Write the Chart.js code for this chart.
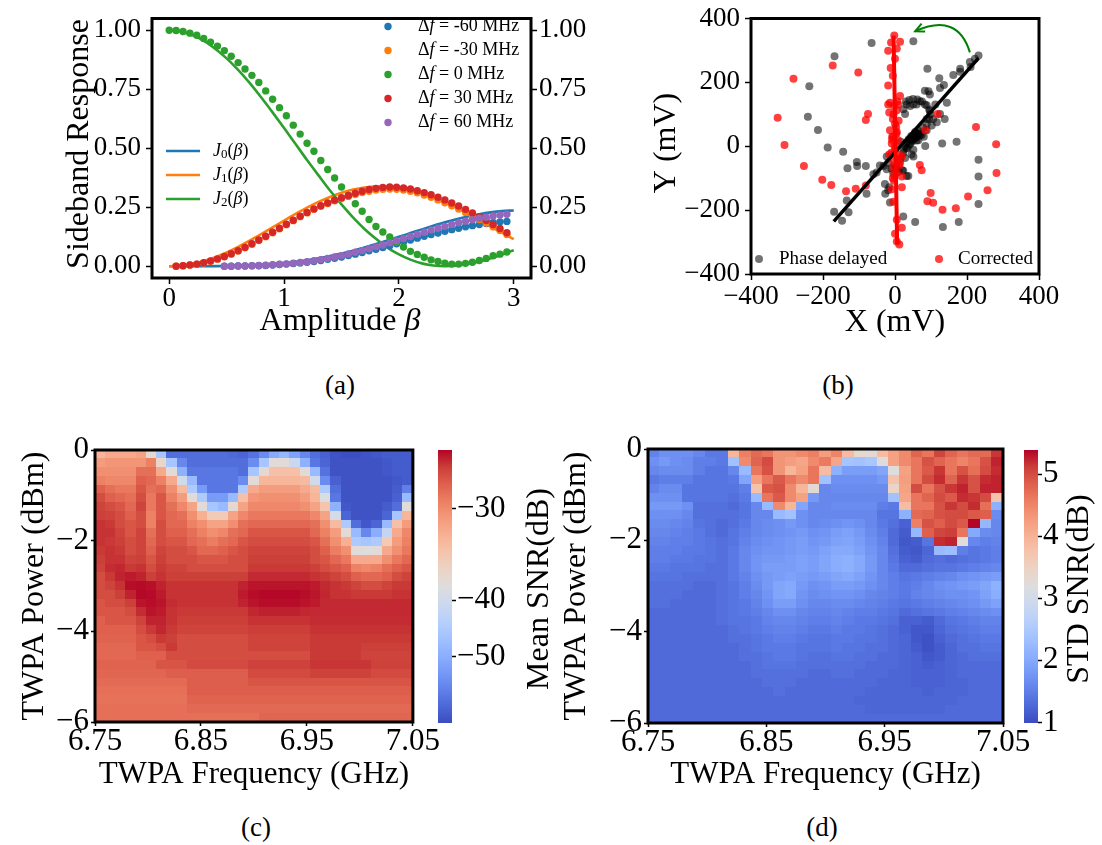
<!DOCTYPE html>
<html>
<head>
<meta charset="utf-8">
<script src="https://cdn.jsdelivr.net/npm/chart.js@4.4.1/dist/chart.umd.min.js"></script>
<style>
  body { margin: 0; background: #fff; width: 1102px; height: 845px; position: relative; overflow: hidden; font-family: "Liberation Serif", serif; }
  canvas { position: absolute; }
  .tag { position: absolute; font-size: 27px; transform: translate(-50%, -50%); color: #000; }
</style>
</head>
<body>
<canvas id="panelA" width="600" height="345" style="left:0;top:0"></canvas>
<canvas id="panelB" width="502" height="345" style="left:600px;top:0"></canvas>
<canvas id="panelC" width="440" height="370" style="left:0;top:430px"></canvas>
<canvas id="barC" width="130" height="370" style="left:430px;top:430px"></canvas>
<canvas id="panelD" width="500" height="370" style="left:540px;top:430px"></canvas>
<canvas id="barD" width="86" height="370" style="left:1016px;top:430px"></canvas>
<div class="tag" style="left:340px;top:385px">(a)</div>
<div class="tag" style="left:838px;top:385px">(b)</div>
<div class="tag" style="left:256px;top:827px">(c)</div>
<div class="tag" style="left:822px;top:827px">(d)</div>
<script>
// ---------- (a) sideband response ----------
const betaLine = [0.0, 0.1, 0.2, 0.3, 0.4, 0.5, 0.6, 0.7, 0.8, 0.9, 1.0, 1.1, 1.2, 1.3, 1.4, 1.5, 1.6, 1.7, 1.8, 1.9, 2.0, 2.1, 2.2, 2.3, 2.4, 2.5, 2.6, 2.7, 2.8, 2.9, 3.0];
const lineJ0 = [0, 0.0000, 0.0000, 0.0001, 0.0004, 0.0009, 0.0019, 0.0035, 0.0057, 0.0089, 0.0132, 0.0187, 0.0254, 0.0335, 0.0430, 0.0539, 0.0660, 0.0794, 0.0937, 0.1088, 0.1245, 0.1403, 0.1561, 0.1713, 0.1858, 0.1990, 0.2107, 0.2205, 0.2282, 0.2335, 0.2363];
const lineJ1 = [0, 0.0025, 0.0099, 0.0220, 0.0384, 0.0587, 0.0822, 0.1082, 0.1360, 0.1648, 0.1937, 0.2217, 0.2483, 0.2725, 0.2937, 0.3113, 0.3248, 0.3339, 0.3381, 0.3378, 0.3326, 0.3230, 0.3091, 0.2915, 0.2706, 0.2471, 0.2217, 0.1950, 0.1679, 0.1409, 0.1150];
const lineJ2 = [1.000, 0.995, 0.980, 0.956, 0.922, 0.881, 0.832, 0.777, 0.716, 0.652, 0.586, 0.518, 0.450, 0.385, 0.321, 0.262, 0.207, 0.158, 0.116, 0.079, 0.050, 0.028, 0.012, 0.003, 0.000, 0.002, 0.009, 0.020, 0.034, 0.050, 0.068];

const betaDots = [0.00, 0.06, 0.12, 0.18, 0.24, 0.30, 0.36, 0.42, 0.48, 0.54, 0.60, 0.66, 0.72, 0.78, 0.84, 0.90, 0.96, 1.02, 1.08, 1.14, 1.20, 1.26, 1.32, 1.38, 1.44, 1.50, 1.56, 1.62, 1.68, 1.74, 1.80, 1.86, 1.92, 1.98, 2.04, 2.10, 2.16, 2.22, 2.28, 2.34, 2.40, 2.46, 2.52, 2.58, 2.64, 2.70, 2.76, 2.82, 2.88, 2.94];
const dotsM60 = [null, null, null, null, null, null, null, null, 0.000, 0.000, 0.001, 0.001, 0.002, 0.002, 0.003, 0.005, 0.007, 0.009, 0.011, 0.014, 0.017, 0.020, 0.024, 0.029, 0.034, 0.039, 0.045, 0.051, 0.058, 0.065, 0.072, 0.079, 0.087, 0.095, 0.103, 0.111, 0.119, 0.127, 0.134, 0.141, 0.148, 0.155, 0.161, 0.167, 0.172, 0.177, 0.181, 0.185, 0.188, 0.190];
const dotsM30 = [null, 0.000, 0.002, 0.005, 0.009, 0.014, 0.021, 0.030, 0.040, 0.051, 0.064, 0.078, 0.093, 0.109, 0.125, 0.142, 0.159, 0.176, 0.193, 0.210, 0.226, 0.241, 0.254, 0.266, 0.277, 0.287, 0.296, 0.304, 0.312, 0.318, 0.323, 0.326, 0.327, 0.326, 0.323, 0.318, 0.311, 0.302, 0.292, 0.281, 0.269, 0.256, 0.242, 0.228, 0.213, 0.198, 0.183, 0.167, 0.151, 0.134];
const dots0 = [1.000, 0.999, 0.995, 0.988, 0.979, 0.965, 0.950, 0.933, 0.914, 0.890, 0.863, 0.836, 0.809, 0.779, 0.743, 0.708, 0.672, 0.638, 0.598, 0.560, 0.521, 0.487, 0.448, 0.410, 0.374, 0.336, 0.300, 0.265, 0.233, 0.198, 0.168, 0.145, 0.124, 0.101, 0.081, 0.063, 0.050, 0.038, 0.027, 0.020, 0.013, 0.009, 0.009, 0.012, 0.017, 0.024, 0.033, 0.044, 0.051, 0.060];
const dots30 = [null, 0.000, 0.002, 0.005, 0.009, 0.015, 0.022, 0.031, 0.041, 0.053, 0.066, 0.080, 0.095, 0.111, 0.127, 0.144, 0.161, 0.178, 0.195, 0.212, 0.228, 0.243, 0.256, 0.268, 0.280, 0.290, 0.300, 0.309, 0.318, 0.325, 0.330, 0.334, 0.336, 0.335, 0.332, 0.327, 0.320, 0.312, 0.303, 0.292, 0.281, 0.268, 0.255, 0.241, 0.226, 0.210, 0.194, 0.177, 0.160, 0.142];
const dots60 = [null, null, null, null, null, null, null, null, 0.000, 0.000, 0.001, 0.001, 0.002, 0.003, 0.004, 0.006, 0.008, 0.010, 0.013, 0.016, 0.019, 0.023, 0.028, 0.033, 0.039, 0.045, 0.052, 0.059, 0.066, 0.074, 0.082, 0.090, 0.099, 0.108, 0.117, 0.126, 0.135, 0.144, 0.153, 0.161, 0.169, 0.177, 0.184, 0.191, 0.197, 0.203, 0.208, 0.213, 0.217, 0.220];
const detunings = ['-60', '-30', '0', '30', '60'];
const besselOrders = ['0', '1', '2'];
const sidebandTicks = [0, 0.25, 0.5, 0.75, 1.0];
const betaTicks = [0, 1, 2, 3];

// ---------- (b) IQ plane ----------
const phaseX = [-65, -168, 51, -238, -242, -214, -187, -144, -132, -106, -105, -81, -134, -129, -169, -147, -27, -19, -14, 23, 56, 232, 232, 232, 177, 133, 171, 131, 84, 90, 232, 222, 208, 181, 162, 136, 123, 112, 144, 125, 138, 97, 83, 69, 51, 32, 23, 42, 60, 83, 97, 106, 102, 88, 69, 56, 46, 56, 42, 32, 23, 14, 28, 51, 65, 74, 32, 23, 5, -23, -32, -42, -51, -60, -23, -19, -28, -16, 51, 16, 28, 37, 46, 88, 116, 181, 210, 125, 93, -79,
  30, 40, 50, 62, 75, 88, 95, 98, 95, 88, 78, 66, 55, 45, 38, 32, 28, 24, 40, 48, 58, 70, 80, 60, 35, 55, 62, 50, 65, 58, 0, -10, 10, 20, -5];
const phaseY = [323, 282, 329, 188, 92, 51, -4, -17, -69, -49, -62, -62, -170, -207, -205, -233, -149, -138, -176, -220, -237, -42, -95, -181, -237, -253, 14, 9, 1, 243, 284, 274, 264, 243, 223, 192, 213, 131, 136, 101, 85, 162, 174, 141, 131, 131, 116, 126, 131, 131, 111, 85, 65, 50, 40, 30, 19, 45, 9, -6, -21, -42, -37, -11, 19, 35, -93, -77, -67, -72, -62, -60, -82, -88, -32, -52, -118, -128, -32, 14, 101, -93, -26, 85, 75, 233, 248, 182, 172, -149,
  140, 145, 148, 146, 140, 128, 115, 100, 85, 70, 58, 48, 40, 32, 22, 12, 0, -12, 5, 15, 28, 35, 30, 18, -5, 25, 30, 20, 38, 42, -60, -70, -80, -75, -85];
const corrX = [-326, -307, -282, -253, -202, -177, -173, -136, -109, -102, -81, -81, -75, 69, 74, 84, 99, 90, 106, 118, 132, 169, 203, 225, 257, 281, 282,
  -2, -11, 14, -19, 5, 0, -12, -6, -19, 14, -14, -3, 5, -16, -6, 0, -14, 5, -5, 9, -9, 0, 12, -5, 14, -6, 5, 19, -3, 19, -9, -5, 5, 19, 0, 5, 12, -8, -16, 19, 9, -19,
  -4, 3, -8, 8, -2, 6, -10, 12, 0, -6, 4, 10];
const corrY = [89, 4, 211, -62, -105, -121, 253, -141, -133, 231, -123, 82, 101, -59, -75, 50, -146, -172, -177, 101, -199, -194, -157, 60, -138, 6, -84,
  347, 325, 327, 299, 306, 274, 245, 221, 190, 157, 136, 126, 113, 106, 85, 70, 50, 45, 30, 19, 9, -11, -26, -42, -52, -67, -82, -95, -108, -128, -135, -174, -230, -255, -274, -298, -308, 30, -26, -32, 131, 131,
  100, 60, 20, -40, -90, 140, -20, -60, 0, -100, 40, 80];
const phaseFitX = [-170, 232];
const phaseFitY = [-235, 276];
const corrFitX = [-4, 6];
const corrFitY = [347, -306];
const iqTicks = [-400, -200, 0, 200, 400];

// ---------- (c), (d) TWPA sweeps: rows from 0 dBm (top) down to -6 dBm ----------
const freqTicks = [6.75, 6.85, 6.95, 7.05];
const powerTicks = [0, -2, -4, -6];
const meanSnrTicks = [-30, -40, -50];
const stdSnrTicks = [1, 2, 3, 4, 5];
const meanSnr = [
  [-33.3, -32.3, -32.3, -32.3, -31.8, -37.5, -46, -58, -58, -58, -58, -58, -58, -58.5, -59, -57.5, -54.5, -50.5, -48.5, -51.5, -55, -58, -59.5, -61, -61.5, -61.5, -61, -60.5, -60, -60, -60],
  [-31.3, -30.8, -30.8, -30.8, -30.8, -29.3, -37, -46, -55, -58, -58, -58, -58, -58, -58, -54.5, -46, -38, -38, -41, -49.5, -57, -59, -61, -61, -61, -61, -61, -60.5, -60, -60],
  [-30.3, -30.3, -30.3, -30.3, -28.3, -28.3, -32.3, -38, -49.5, -57, -57, -57, -57, -57, -58, -46, -37.5, -34.3, -34.3, -34.3, -38, -48, -57.5, -61, -61, -61, -61, -61, -60.5, -60, -60],
  [-29.3, -29.8, -29.8, -29.8, -27.3, -27.8, -29.3, -32.3, -40, -48, -57, -57, -57, -57, -54.5, -38, -33.3, -33.3, -33.3, -33.3, -33.8, -40, -54.5, -59.5, -61, -61, -61, -61, -61, -60.5, -60],
  [-27.3, -28.3, -28.8, -28.8, -26.8, -28.3, -27.8, -30.3, -33.8, -45, -52.5, -57, -57, -57, -45, -32.3, -31.3, -31.3, -31.3, -31.3, -32.3, -33.8, -45, -58, -61, -61, -61, -61, -61, -60, -56],
  [-26.3, -27.3, -27.8, -28.3, -26.3, -28.8, -26.8, -29.3, -31.3, -38, -45, -52.5, -52.5, -48, -34.3, -30.8, -30.3, -30.3, -30.3, -30.3, -31.3, -33.3, -39, -57, -61, -61, -61, -61, -61, -59.5, -48],
  [-25.8, -26.3, -26.8, -27.8, -25.8, -28.8, -26.8, -28.3, -29.8, -31.8, -38, -46, -48, -37.5, -31.8, -29.8, -29.8, -29.8, -29.8, -29.8, -30.3, -31.8, -34.8, -49.5, -60.5, -61, -61, -61, -60, -58, -38],
  [-25.6, -25.8, -26.3, -27.3, -26.3, -29.3, -26.8, -27.8, -28.3, -30.3, -32.8, -35.5, -35.5, -31.8, -29.8, -28.8, -28.8, -28.8, -28.8, -28.8, -28.8, -29.8, -31.8, -39.5, -59, -61, -61, -61, -59, -46, -33.3],
  [-25.1, -25.3, -26.3, -26.8, -26.3, -29.3, -26.3, -27.8, -27.8, -29.3, -30.3, -31.8, -31.8, -30.3, -28.3, -27.8, -27.8, -27.8, -27.8, -27.8, -27.8, -28.3, -30.3, -33.8, -45, -58, -60.5, -59, -48, -34.3, -31.3],
  [-25.1, -25.1, -25.8, -26.8, -25.8, -28.3, -26.3, -27.3, -27.3, -28.3, -29.3, -30.3, -29.8, -28.3, -27.8, -26.8, -26.8, -26.8, -26.8, -26.8, -26.8, -27.8, -29.3, -31.3, -38, -48, -55, -50, -42, -32.3, -29.8],
  [-25.1, -25.3, -25.6, -26.3, -25.8, -27.8, -26.3, -26.8, -26.8, -27.8, -28.3, -29.1, -28.3, -27.8, -26.8, -26.3, -26.3, -26.3, -26.3, -26.3, -26.3, -26.8, -28.3, -30.3, -32.8, -45, -46, -45, -35.5, -31.3, -29.3],
  [-25.3, -25.1, -25.3, -26.3, -25.8, -27.3, -25.8, -26.3, -26.3, -26.8, -27.8, -27.8, -27.3, -26.8, -26.3, -25.8, -25.8, -25.8, -25.8, -25.8, -25.8, -26.3, -27.3, -29.1, -30.3, -38, -38.5, -38, -32.3, -30.3, -28.8],
  [-25.6, -25.1, -25.1, -25.8, -25.6, -26.8, -25.6, -26.3, -26.3, -26.3, -26.8, -26.8, -26.8, -26.3, -26.3, -25.6, -25.6, -25.6, -25.6, -25.6, -25.6, -26.3, -26.8, -27.8, -28.8, -32.3, -32.3, -32.3, -30.3, -28.8, -27.8],
  [-25.8, -24.9, -24.7, -25.3, -25.1, -26.3, -25.3, -25.8, -25.8, -26.3, -26.3, -26.3, -26.3, -26.3, -26.3, -25.3, -25.3, -25.3, -25.3, -25.3, -25.3, -25.6, -26.3, -26.8, -27.3, -29.3, -29.8, -29.3, -28.3, -27.3, -26.8],
  [-26.3, -25.3, -24.6, -24.3, -24.6, -25.6, -25.1, -25.6, -25.6, -25.6, -25.6, -25.6, -25.6, -25.6, -25.6, -24.8, -24.8, -24.8, -24.8, -24.8, -24.8, -25.1, -25.3, -25.8, -26.3, -27.3, -27.8, -27.8, -27.3, -26.3, -25.8],
  [-26.3, -25.8, -25.1, -23.9, -23.8, -24.0, -24.6, -25.1, -25.1, -25.1, -25.1, -25.1, -25.1, -25.1, -24.6, -24.1, -24.1, -24.1, -24.1, -24.1, -24.1, -24.3, -24.8, -25.1, -25.3, -25.8, -26.3, -26.3, -25.8, -25.3, -25.3],
  [-26.3, -26.3, -25.6, -24.6, -23.7, -23.8, -24.3, -25.1, -25.1, -25.1, -25.1, -25.1, -25.1, -25.1, -24.3, -23.9, -23.7, -23.7, -23.7, -23.7, -23.9, -24.2, -24.7, -25.1, -25.1, -25.3, -25.3, -25.3, -25.3, -25.1, -25.1],
  [-26.8, -26.3, -26.3, -25.6, -24.1, -23.9, -24.1, -24.9, -25.1, -25.1, -25.1, -25.1, -25.1, -25.1, -24.6, -24.1, -23.9, -23.9, -23.9, -23.9, -24.1, -24.3, -24.8, -24.8, -24.8, -24.8, -24.8, -24.8, -24.8, -24.8, -24.8],
  [-26.8, -26.8, -26.8, -26.3, -24.9, -24.1, -24.3, -25.1, -25.3, -25.3, -25.3, -25.3, -25.3, -25.3, -25.3, -24.7, -24.5, -24.5, -24.5, -24.5, -24.7, -24.8, -24.8, -24.8, -24.8, -24.8, -24.8, -24.8, -24.8, -24.8, -24.8],
  [-27.3, -26.8, -26.8, -26.8, -25.8, -24.6, -24.6, -25.1, -25.5, -25.5, -25.5, -25.5, -25.5, -25.5, -25.5, -25.1, -25.1, -25.1, -25.1, -25.1, -25.1, -24.9, -24.9, -24.9, -24.9, -24.9, -24.9, -24.9, -24.9, -24.9, -24.9],
  [-27.3, -27.3, -27.3, -27.3, -26.3, -25.3, -24.7, -25.3, -25.8, -25.8, -25.8, -25.8, -25.8, -25.8, -25.8, -25.5, -25.5, -25.5, -25.5, -25.5, -25.5, -25.1, -25.1, -25.1, -25.1, -25.1, -25.1, -25.1, -25.1, -25.1, -25.1],
  [-27.5, -27.5, -27.5, -27.5, -26.8, -26.3, -25.3, -25.6, -26.3, -26.3, -26.3, -26.3, -26.3, -26.3, -26.3, -25.8, -25.8, -25.8, -25.8, -25.8, -25.8, -25.3, -25.3, -25.3, -25.3, -25.3, -25.3, -25.3, -25.3, -25.3, -25.3],
  [-27.8, -27.8, -27.8, -27.8, -26.8, -26.8, -26.3, -25.3, -26.3, -26.3, -26.3, -26.3, -26.3, -26.3, -26.3, -25.8, -25.8, -25.8, -25.8, -25.8, -25.8, -25.3, -25.3, -25.3, -25.3, -25.3, -25.6, -25.6, -25.6, -25.6, -25.6],
  [-27.8, -27.8, -27.8, -27.8, -27.3, -27.3, -27.3, -26.3, -26.3, -26.3, -26.3, -26.3, -26.3, -26.3, -26.3, -26.3, -26.3, -26.3, -26.3, -26.3, -26.3, -25.3, -25.3, -25.3, -25.3, -25.3, -25.8, -25.8, -25.8, -25.8, -25.8],
  [-27.5, -27.5, -27.5, -27.5, -27.5, -27.5, -26.7, -26.7, -26.7, -26.2, -26.2, -26.2, -26.2, -26.2, -26.2, -25.7, -25.7, -25.7, -25.7, -25.7, -25.7, -25.2, -25.2, -25.2, -25.2, -25.2, -25.2, -25.7, -25.7, -25.7, -25.7],
  [-27.7, -27.7, -27.7, -27.7, -27.7, -27.7, -27.7, -27.2, -27.2, -27.2, -27.2, -27.2, -27.2, -27.2, -27.2, -26.2, -26.2, -26.2, -26.2, -26.2, -26.2, -25.7, -25.7, -25.7, -25.7, -25.7, -25.7, -26.2, -26.2, -26.2, -26.2],
  [-28, -28, -28, -28, -28, -28, -28, -28, -28, -27.2, -27.2, -27.2, -27.2, -27.2, -27.2, -26.7, -26.7, -26.7, -26.7, -26.7, -26.7, -26.7, -26.7, -26.7, -26.7, -26.7, -26.7, -26.7, -26.7, -26.7, -26.7],
  [-28.2, -28.2, -28.2, -28.2, -28.2, -28.2, -28.2, -28.2, -28.2, -27.2, -27.2, -27.2, -27.2, -27.2, -27.2, -27.2, -27.2, -27.2, -27.2, -27.2, -27.2, -27.2, -27.2, -27.2, -27.2, -27.2, -27.2, -27.2, -27.2, -27.2, -27.2],
  [-28.4, -28.4, -28.4, -28.4, -28.4, -28.4, -28.4, -28.4, -28.4, -27.5, -27.5, -27.5, -27.5, -27.5, -27.5, -27.5, -27.5, -27.5, -27.5, -27.5, -27.5, -27.5, -27.5, -27.5, -27.5, -27.5, -27.5, -27.5, -27.5, -27.5, -27.5],
  [-28.2, -28.2, -28.2, -28.2, -28.2, -28.2, -28.2, -28.2, -28.2, -27.9, -27.9, -27.9, -27.9, -27.9, -27.9, -27.9, -27.9, -27.9, -27.9, -27.9, -27.9, -27.9, -27.9, -27.9, -27.9, -27.9, -27.9, -27.9, -27.9, -27.9, -27.9],
  [-28.2, -28.2, -28.2, -28.2, -28.2, -28.2, -28.2, -28.2, -28.2, -28.2, -28.2, -28.2, -28.2, -28.2, -28.2, -28.2, -27.7, -27.7, -27.7, -27.7, -27.7, -27.7, -27.7, -27.7, -27.7, -27.7, -27.7, -27.7, -27.7, -27.7, -27.7]
];
const stdSnr = [
  [1.55, 1.7, 1.7, 1.7, 1.6, 1.45, 1.45, 3.95, 4.55, 4.75, 4.65, 4.35, 4.35, 4.45, 4.55, 4.25, 4.5, 3.85, 3.35, 3.3, 3.85, 4.2, 4.45, 4.8, 4.65, 5.05, 4.8, 4.65, 4.75, 4.75, 5.15],
  [1.7, 1.8, 1.7, 1.65, 1.5, 1.5, 1.45, 2.35, 4.45, 4.8, 5.0, 4.35, 4.25, 4.15, 4.45, 4.6, 4.15, 2.4, 2.35, 2.45, 3.25, 4.2, 4.45, 4.65, 4.95, 4.8, 4.65, 4.5, 4.65, 4.95, 5.25],
  [1.6, 1.65, 1.65, 1.65, 1.5, 1.4, 1.4, 1.6, 2.25, 4.65, 4.95, 4.35, 3.95, 4.2, 4.65, 3.85, 2.1, 1.85, 1.85, 1.85, 1.95, 3.2, 4.2, 4.65, 4.9, 5.15, 4.65, 4.95, 4.7, 5.0, 5.2],
  [1.45, 1.5, 1.5, 1.5, 1.4, 1.4, 1.4, 1.45, 1.95, 4.25, 4.65, 4.9, 4.65, 4.45, 4.65, 2.35, 1.7, 1.7, 1.7, 1.7, 1.8, 3.75, 4.25, 4.65, 5.0, 5.2, 4.8, 5.15, 4.95, 5.2, 5.25],
  [1.55, 1.65, 1.65, 1.4, 1.4, 1.4, 1.4, 1.4, 1.5, 3.75, 4.9, 4.95, 4.45, 3.95, 3.3, 1.6, 1.65, 1.65, 1.65, 1.65, 1.65, 3.45, 4.2, 5.0, 4.65, 4.95, 5.15, 5.25, 4.95, 5.25, 5.25],
  [1.7, 1.7, 1.7, 1.4, 1.4, 1.4, 1.4, 1.35, 1.45, 2.25, 4.65, 4.9, 4.45, 4.2, 1.8, 1.6, 1.6, 1.6, 1.6, 1.6, 1.6, 2.35, 4.15, 4.65, 4.8, 5.0, 4.9, 5.2, 5.15, 5.0, 3.75],
  [1.8, 1.8, 1.8, 1.7, 1.35, 1.35, 1.35, 1.3, 1.4, 1.6, 2.25, 4.45, 3.95, 1.95, 1.6, 1.6, 1.65, 1.65, 1.65, 1.65, 1.5, 1.45, 3.85, 4.65, 4.65, 4.95, 5.15, 5.0, 5.2, 4.7, 2.1],
  [1.7, 1.7, 1.7, 1.6, 1.35, 1.35, 1.35, 1.35, 1.4, 1.6, 1.6, 2.25, 2.35, 1.7, 1.6, 1.6, 1.6, 1.6, 1.6, 1.6, 1.4, 1.4, 2.1, 4.75, 4.8, 4.95, 5.0, 5.0, 4.9, 4.85, 1.65],
  [1.65, 1.65, 1.6, 1.55, 1.4, 1.35, 1.3, 1.35, 1.45, 1.6, 1.65, 1.7, 1.8, 1.7, 1.6, 1.65, 1.7, 1.75, 1.7, 1.6, 1.45, 1.35, 1.2, 4.55, 4.95, 4.85, 5.0, 4.9, 5.4, 2.2, 1.6],
  [1.6, 1.6, 1.55, 1.5, 1.45, 1.35, 1.3, 1.4, 1.5, 1.6, 1.65, 1.7, 1.75, 1.8, 1.7, 1.75, 1.85, 1.9, 1.8, 1.65, 1.5, 1.3, 1.15, 2.2, 4.85, 5.05, 5.1, 4.65, 2.0, 1.65, 1.6],
  [1.55, 1.55, 1.5, 1.5, 1.45, 1.4, 1.35, 1.4, 1.55, 1.65, 1.7, 1.75, 1.8, 1.85, 1.75, 1.8, 1.9, 1.95, 1.85, 1.7, 1.55, 1.3, 1.1, 1.15, 1.4, 5.2, 5.25, 3.2, 1.6, 1.5, 1.55],
  [1.5, 1.5, 1.5, 1.45, 1.45, 1.4, 1.35, 1.45, 1.6, 1.7, 1.75, 1.75, 1.8, 1.85, 1.8, 1.9, 2.0, 2.0, 1.9, 1.75, 1.6, 1.35, 1.15, 1.1, 1.25, 2.25, 2.3, 1.5, 1.4, 1.45, 1.5],
  [1.5, 1.5, 1.45, 1.45, 1.4, 1.4, 1.35, 1.45, 1.6, 1.75, 1.8, 1.8, 1.85, 1.9, 1.85, 1.95, 2.05, 2.1, 2.0, 1.8, 1.6, 1.4, 1.2, 1.15, 1.3, 1.35, 1.3, 1.35, 1.4, 1.45, 1.5],
  [1.45, 1.45, 1.4, 1.4, 1.4, 1.35, 1.35, 1.45, 1.6, 1.75, 1.85, 1.85, 1.85, 1.9, 1.85, 1.95, 2.05, 2.1, 2.0, 1.8, 1.6, 1.45, 1.3, 1.3, 1.35, 1.4, 1.4, 1.45, 1.5, 1.55, 1.6],
  [1.4, 1.4, 1.4, 1.35, 1.35, 1.35, 1.35, 1.45, 1.55, 1.7, 1.8, 1.85, 1.9, 1.85, 1.8, 1.85, 1.95, 2.0, 1.9, 1.75, 1.6, 1.5, 1.4, 1.45, 1.5, 1.55, 1.6, 1.7, 1.75, 1.8, 1.85],
  [1.35, 1.35, 1.35, 1.35, 1.3, 1.3, 1.35, 1.4, 1.5, 1.65, 1.8, 1.95, 2.0, 1.8, 1.7, 1.75, 1.85, 1.85, 1.8, 1.7, 1.6, 1.5, 1.45, 1.5, 1.6, 1.7, 1.75, 1.8, 1.85, 1.95, 2.1],
  [1.35, 1.35, 1.35, 1.3, 1.3, 1.3, 1.35, 1.4, 1.5, 1.6, 1.75, 1.95, 2.0, 1.75, 1.65, 1.7, 1.75, 1.75, 1.7, 1.6, 1.55, 1.5, 1.45, 1.55, 1.6, 1.65, 1.7, 1.7, 1.75, 1.9, 2.05],
  [1.35, 1.35, 1.3, 1.3, 1.3, 1.3, 1.35, 1.4, 1.45, 1.55, 1.7, 1.85, 1.85, 1.7, 1.6, 1.6, 1.65, 1.65, 1.6, 1.55, 1.5, 1.45, 1.4, 1.45, 1.5, 1.55, 1.6, 1.65, 1.7, 1.8, 1.9],
  [1.3, 1.3, 1.3, 1.3, 1.3, 1.3, 1.35, 1.4, 1.45, 1.5, 1.6, 1.7, 1.7, 1.6, 1.55, 1.55, 1.6, 1.55, 1.5, 1.5, 1.45, 1.4, 1.3, 1.35, 1.4, 1.45, 1.5, 1.55, 1.6, 1.65, 1.7],
  [1.3, 1.3, 1.3, 1.3, 1.3, 1.3, 1.35, 1.4, 1.4, 1.45, 1.55, 1.6, 1.6, 1.55, 1.5, 1.5, 1.55, 1.5, 1.45, 1.45, 1.4, 1.35, 1.2, 1.2, 1.15, 1.3, 1.4, 1.45, 1.5, 1.55, 1.55],
  [1.3, 1.3, 1.3, 1.3, 1.3, 1.3, 1.3, 1.35, 1.4, 1.45, 1.5, 1.55, 1.55, 1.5, 1.45, 1.45, 1.5, 1.45, 1.45, 1.4, 1.35, 1.3, 1.2, 1.1, 1.1, 1.25, 1.35, 1.4, 1.45, 1.5, 1.5],
  [1.3, 1.3, 1.3, 1.3, 1.3, 1.3, 1.3, 1.35, 1.35, 1.4, 1.45, 1.5, 1.5, 1.45, 1.4, 1.4, 1.45, 1.45, 1.4, 1.4, 1.35, 1.3, 1.25, 1.1, 1.05, 1.2, 1.3, 1.35, 1.4, 1.45, 1.45],
  [1.3, 1.3, 1.3, 1.3, 1.3, 1.3, 1.3, 1.3, 1.35, 1.4, 1.45, 1.45, 1.45, 1.4, 1.4, 1.4, 1.45, 1.4, 1.4, 1.35, 1.35, 1.3, 1.25, 1.15, 1.05, 1.15, 1.25, 1.35, 1.35, 1.4, 1.4],
  [1.3, 1.3, 1.3, 1.3, 1.3, 1.3, 1.3, 1.3, 1.35, 1.35, 1.4, 1.45, 1.45, 1.4, 1.35, 1.35, 1.4, 1.4, 1.35, 1.35, 1.3, 1.3, 1.25, 1.2, 1.1, 1.15, 1.25, 1.3, 1.35, 1.35, 1.35],
  [1.3, 1.3, 1.3, 1.3, 1.3, 1.3, 1.3, 1.3, 1.3, 1.35, 1.4, 1.4, 1.4, 1.35, 1.35, 1.35, 1.35, 1.35, 1.35, 1.3, 1.3, 1.3, 1.25, 1.2, 1.15, 1.2, 1.25, 1.3, 1.3, 1.3, 1.3],
  [1.3, 1.3, 1.3, 1.3, 1.3, 1.3, 1.3, 1.3, 1.3, 1.35, 1.35, 1.35, 1.35, 1.35, 1.3, 1.3, 1.35, 1.35, 1.3, 1.3, 1.3, 1.25, 1.25, 1.2, 1.2, 1.2, 1.25, 1.3, 1.3, 1.3, 1.3],
  [1.3, 1.3, 1.3, 1.3, 1.3, 1.3, 1.3, 1.3, 1.3, 1.3, 1.35, 1.35, 1.35, 1.3, 1.3, 1.3, 1.3, 1.3, 1.3, 1.3, 1.25, 1.25, 1.25, 1.2, 1.2, 1.2, 1.25, 1.25, 1.3, 1.3, 1.3],
  [1.3, 1.3, 1.3, 1.3, 1.3, 1.3, 1.3, 1.3, 1.3, 1.3, 1.3, 1.35, 1.3, 1.3, 1.3, 1.3, 1.3, 1.3, 1.3, 1.25, 1.25, 1.25, 1.25, 1.25, 1.2, 1.25, 1.25, 1.25, 1.3, 1.3, 1.3],
  [1.3, 1.3, 1.3, 1.3, 1.3, 1.3, 1.3, 1.3, 1.3, 1.3, 1.3, 1.3, 1.3, 1.3, 1.3, 1.3, 1.3, 1.3, 1.25, 1.25, 1.25, 1.25, 1.25, 1.25, 1.25, 1.25, 1.25, 1.3, 1.3, 1.3, 1.3],
  [1.3, 1.3, 1.3, 1.3, 1.3, 1.3, 1.3, 1.3, 1.3, 1.3, 1.3, 1.3, 1.3, 1.3, 1.3, 1.3, 1.3, 1.3, 1.3, 1.25, 1.25, 1.25, 1.25, 1.25, 1.25, 1.25, 1.3, 1.3, 1.3, 1.3, 1.3],
  [1.3, 1.3, 1.3, 1.3, 1.3, 1.3, 1.3, 1.3, 1.3, 1.3, 1.3, 1.3, 1.3, 1.3, 1.3, 1.3, 1.3, 1.3, 1.3, 1.3, 1.3, 1.3, 1.3, 1.3, 1.3, 1.3, 1.3, 1.3, 1.3, 1.3, 1.3]
];

// ---------- styling ----------
const SERIF = '"Liberation Serif"';
Chart.defaults.font.family = SERIF;
Chart.defaults.color = '#000';
Chart.defaults.animation = false;
const tab = { blue: '#1f77b4', orange: '#ff7f0e', green: '#2ca02c', red: '#d62728', purple: '#9467bd' };

// matplotlib coolwarm, sampled every 1/16
const coolwarm = [
  [0, [59, 76, 192]], [0.0625, [77, 104, 215]], [0.125, [98, 130, 234]], [0.1875, [119, 154, 247]],
  [0.25, [141, 176, 254]], [0.3125, [163, 194, 255]], [0.375, [184, 208, 249]], [0.4375, [204, 217, 238]],
  [0.5, [221, 221, 221]], [0.5625, [236, 211, 197]], [0.625, [245, 196, 173]], [0.6875, [247, 177, 148]],
  [0.75, [244, 154, 123]], [0.8125, [236, 127, 99]], [0.875, [222, 96, 77]], [0.9375, [203, 62, 56]], [1, [180, 4, 38]]
];
function cmap(t) {
  t = Math.min(1, Math.max(0, t));
  for (let i = 1; i < coolwarm.length; i++) {
    const [t1, c1] = coolwarm[i];
    if (t <= t1) {
      const [t0, c0] = coolwarm[i - 1];
      const f = (t - t0) / (t1 - t0);
      return `rgb(${c0.map((v, k) => Math.round(v + f * (c1[k] - v))).join(',')})`;
    }
  }
  return 'rgb(180,4,38)';
}
// mean SNR colour scale is two-sloped around -40 dB
const normMean = v => v <= -40 ? 0.45 + (v + 40) * 0.45 / 21.7 : 0.45 + (v + 40) * 0.55 / 16.4;
const normStd = v => (v - 0.99) / 4.4;

const minus = (v, d = 0) => (v < 0 ? '\u2212' : '') + Math.abs(v).toFixed(d);
const fixedTicks = values => scale => { scale.ticks = values.map(v => ({ value: v })); };

function axis(extra, size, tickLen, pad) {
  return Object.assign({
    type: 'linear',
    border: { display: false },
    grid: { drawOnChartArea: false, drawTicks: true, tickLength: tickLen, tickWidth: 1.5, color: '#000', tickColor: '#000' },
    ticks: { font: { size, lineHeight: 1 }, color: '#000', autoSkip: false, maxRotation: 0, minRotation: 0, padding: pad }
  }, extra);
}
function withTicks(ax, cb) { ax.ticks.callback = cb; return ax; }

function font(size, italic) { return `${italic ? 'italic ' : ''}${size}px ${SERIF}`; }
// draw a row of text runs (mixed roman / italic / subscript), optionally rotated
function drawRuns(ctx, runs, x, y, align, rotate) {
  ctx.save();
  ctx.translate(x, y);
  if (rotate) ctx.rotate(-Math.PI / 2);
  ctx.textBaseline = 'middle';
  ctx.fillStyle = '#000';
  let total = 0;
  runs.forEach(r => { ctx.font = r.font; r.w = ctx.measureText(r.text).width; total += r.w; });
  let cx = align === 'center' ? -total / 2 : 0;
  runs.forEach(r => { ctx.font = r.font; ctx.fillText(r.text, cx, r.dy || 0); cx += r.w; });
  ctx.restore();
}
const plain = (text, size) => [{ text, font: font(size) }];

const frame = {
  id: 'frame',
  afterDatasetsDraw(chart) {
    const { ctx, chartArea: a } = chart;
    ctx.save();
    ctx.lineWidth = 3;
    ctx.strokeStyle = '#000';
    ctx.strokeRect(a.left, a.top, a.right - a.left, a.bottom - a.top);
    ctx.restore();
  }
};
const overlay = draw => ({ id: 'overlay', afterDraw(chart) { draw(chart.ctx, chart); } });

// ---------- panel (a) ----------
const pts = (xs, ys) => ys.map((y, i) => ({ x: xs[i], y }));
const curve = (ys, color, order) => ({ data: pts(betaLine, ys), showLine: true, borderColor: color, borderWidth: 2.6, pointRadius: 0, cubicInterpolationMode: 'monotone', order });
const dots = (ys, color, order) => ({ data: pts(betaDots, ys), showLine: false, backgroundColor: color, borderWidth: 0, pointRadius: 3.7, order });
const dotColors = [tab.blue, tab.orange, tab.green, tab.red, tab.purple];
const lineColors = [tab.blue, tab.orange, tab.green];

new Chart(document.getElementById('panelA'), {
  type: 'scatter',
  data: {
    datasets: [
      curve(lineJ0, tab.blue, 12), curve(lineJ1, tab.orange, 11), curve(lineJ2, tab.green, 10),
      dots(dotsM60, tab.blue, 5), dots(dotsM30, tab.orange, 4), dots(dots0, tab.green, 3),
      dots(dots30, tab.red, 2), dots(dots60, tab.purple, 1)
    ]
  },
  options: {
    responsive: false,
    layout: { padding: { top: 4, left: 0, right: 0, bottom: 0 } },
    plugins: { legend: { display: false }, tooltip: { enabled: false } },
    scales: {
      x: withTicks(axis({ min: -0.15, max: 3.15, afterFit: s => { s.height = 67; }, afterBuildTicks: fixedTicks(betaTicks) }, 27, 6, 1), v => String(v)),
      y: withTicks(axis({ min: -0.05, max: 1.05, afterFit: s => { s.width = 152; }, afterBuildTicks: fixedTicks(sidebandTicks) }, 27, 6, 5), v => v.toFixed(2)),
      y2: withTicks(axis({ position: 'right', min: -0.05, max: 1.05, afterFit: s => { s.width = 69; }, afterBuildTicks: fixedTicks(sidebandTicks) }, 27, 6, 2), v => v.toFixed(2))
    }
  },
  plugins: [frame, overlay(ctx => {
    // Bessel legend
    besselOrders.forEach((n, i) => {
      const y = 151 + i * 24;
      ctx.save();
      ctx.strokeStyle = lineColors[i];
      ctx.lineWidth = 2.6;
      ctx.beginPath(); ctx.moveTo(166, y); ctx.lineTo(200, y); ctx.stroke();
      ctx.restore();
      drawRuns(ctx, [
        { text: 'J', font: font(18, true) }, { text: n, font: font(13), dy: 4 },
        { text: '(', font: font(18) }, { text: 'β', font: font(18, true) }, { text: ')', font: font(18) }
      ], 213, y, 'left');
    });
    // detuning legend
    detunings.forEach((d, i) => {
      const y = 26.5 + i * 24;
      ctx.save();
      ctx.fillStyle = dotColors[i];
      ctx.beginPath(); ctx.arc(388, y, 3.7, 0, 2 * Math.PI); ctx.fill();
      ctx.restore();
      drawRuns(ctx, [
        { text: 'Δ', font: font(18) }, { text: 'f', font: font(18, true) }, { text: ` = ${d} MHz`, font: font(18) }
      ], 418, y, 'left');
    });
    drawRuns(ctx, plain('Sideband Response', 32), 80, 144, 'center', true);
    drawRuns(ctx, [{ text: 'Amplitude ', font: font(32) }, { text: 'β', font: font(32, true) }], 340, 322, 'center');
  })]
});

// ---------- panel (b) ----------
const line2 = (xs, ys, color, width, order) => ({ data: pts(xs, ys), showLine: true, borderColor: color, borderWidth: width, pointRadius: 0, order });
new Chart(document.getElementById('panelB'), {
  type: 'scatter',
  data: {
    datasets: [
      { data: pts(phaseX, phaseY), backgroundColor: 'rgba(0,0,0,0.55)', borderWidth: 0, pointRadius: 4, order: 4 },
      { data: pts(corrX, corrY), backgroundColor: 'rgba(255,0,0,0.75)', borderWidth: 0, pointRadius: 4, order: 3 },
      line2(phaseFitX, phaseFitY, '#000', 3.5, 2),
      line2(corrFitX, corrFitY, '#ff0000', 4, 1)
    ]
  },
  options: {
    responsive: false,
    layout: { padding: { top: 12, left: 0, right: 63, bottom: 0 } },
    plugins: { legend: { display: false }, tooltip: { enabled: false } },
    scales: {
      x: withTicks(axis({ min: -400, max: 400, afterFit: s => { s.height = 71; }, afterBuildTicks: fixedTicks(iqTicks) }, 27, 6, 3), v => minus(v)),
      y: withTicks(axis({ min: -400, max: 400, afterFit: s => { s.width = 151; }, afterBuildTicks: fixedTicks(iqTicks) }, 27, 6, 5), v => minus(v))
    }
  },
  plugins: [frame, overlay((ctx, chart) => {
    const { x, y } = chart.scales;
    // rotation arrow, from the delayed cloud towards the corrected one
    const p0 = [x.getPixelForValue(208), y.getPixelForValue(294)];
    const pc = [x.getPixelForValue(174), y.getPixelForValue(420)];
    const p1 = [x.getPixelForValue(56), y.getPixelForValue(360)];
    ctx.save();
    ctx.strokeStyle = '#008000';
    ctx.lineWidth = 2;
    ctx.beginPath(); ctx.moveTo(...p0); ctx.quadraticCurveTo(...pc, ...p1); ctx.stroke();
    const ang = Math.atan2(p1[1] - pc[1], p1[0] - pc[0]);
    ctx.beginPath();
    ctx.moveTo(p1[0] - 10 * Math.cos(ang - 0.45), p1[1] - 10 * Math.sin(ang - 0.45));
    ctx.lineTo(...p1);
    ctx.lineTo(p1[0] - 10 * Math.cos(ang + 0.45), p1[1] - 10 * Math.sin(ang + 0.45));
    ctx.stroke();
    // legend
    ctx.fillStyle = 'rgba(0,0,0,0.55)';
    ctx.beginPath(); ctx.arc(159, 259, 4, 0, 2 * Math.PI); ctx.fill();
    ctx.fillStyle = 'rgba(255,0,0,0.75)';
    ctx.beginPath(); ctx.arc(339, 259, 4, 0, 2 * Math.PI); ctx.fill();
    ctx.restore();
    drawRuns(ctx, plain('Phase delayed', 19), 179, 259, 'left');
    drawRuns(ctx, plain('Corrected', 19), 358, 259, 'left');
    drawRuns(ctx, plain('Y (mV)', 32), 67, 143, 'center', true);
    drawRuns(ctx, plain('X (mV)', 32), 295, 323, 'center');
  })]
});

// ---------- panels (c), (d): heatmaps ----------
function heatmap(grid, norm) {
  return {
    id: 'heatmap',
    beforeDatasetsDraw(chart) {
      const { ctx, scales: { x, y } } = chart;
      const rows = grid.length, cols = grid[0].length;
      const dx = (7.05 - 6.75) / cols, dy = 6 / rows;
      ctx.save();
      grid.forEach((row, r) => row.forEach((v, c) => {
        const l = Math.floor(x.getPixelForValue(6.75 + c * dx));
        const rt = Math.ceil(x.getPixelForValue(6.75 + (c + 1) * dx));
        const t = Math.floor(y.getPixelForValue(-r * dy));
        const b = Math.ceil(y.getPixelForValue(-(r + 1) * dy));
        ctx.fillStyle = cmap(norm(v));
        ctx.fillRect(l, t, rt - l, b - t);
      }));
      ctx.restore();
    }
  };
}
function heatChart(id, grid, norm, box, ylabelX) {
  new Chart(document.getElementById(id), {
    type: 'scatter',
    data: { datasets: [] },
    options: {
      responsive: false,
      layout: { padding: { top: box.top, left: 0, right: box.right, bottom: 0 } },
      plugins: { legend: { display: false }, tooltip: { enabled: false } },
      scales: {
        x: withTicks(axis({ min: 6.75, max: 7.05, afterFit: s => { s.height = box.bottom; }, afterBuildTicks: fixedTicks(freqTicks) }, 31, 4, 0), v => v.toFixed(2)),
        y: withTicks(axis({ min: -6, max: 0, afterFit: s => { s.width = box.left; }, afterBuildTicks: fixedTicks(powerTicks) }, 31, 4, 2), v => minus(v))
      }
    },
    plugins: [heatmap(grid, norm), frame, overlay((ctx, chart) => {
      const a = chart.chartArea;
      drawRuns(ctx, plain('TWPA Power (dBm)', 32), ylabelX, 156, 'center', true);
      drawRuns(ctx, plain('TWPA Frequency (GHz)', 31), (a.left + a.right) / 2, 345, 'center');
    })]
  });
}
heatChart('panelC', meanSnr, normMean, { top: 20, right: 22, bottom: 78, left: 95 }, 35);
heatChart('panelD', stdSnr, normStd, { top: 19, right: 37, bottom: 77, left: 108 }, 37);

// colour bars: one floating bar filled with the colormap, axis in normalised units
function colorbar(id, norm, ticks, labelFmt, width, title, titleX) {
  new Chart(document.getElementById(id), {
    type: 'bar',
    data: {
      labels: [''],
      datasets: [{
        data: [[0, 1]], borderWidth: 0, barPercentage: 1, categoryPercentage: 1,
        backgroundColor: c => {
          const a = c.chart.chartArea;
          if (!a) return null;
          const g = c.chart.ctx.createLinearGradient(0, a.bottom, 0, a.top);
          coolwarm.forEach(([t, col]) => g.addColorStop(t, `rgb(${col.join(',')})`));
          return g;
        }
      }]
    },
    options: {
      responsive: false,
      layout: { padding: { top: 20, left: 8, right: 0, bottom: 77 } },
      plugins: { legend: { display: false }, tooltip: { enabled: false } },
      scales: {
        x: { display: false },
        y: withTicks(axis({
          position: 'right', min: 0, max: 1,
          afterFit: s => { s.width = width - 22; },
          afterBuildTicks: s => { s.ticks = ticks.map(v => ({ value: norm(v) })); }
        }, 31, 4, 1), (v, i) => labelFmt(ticks[i]))
      }
    },
    plugins: [overlay(ctx => drawRuns(ctx, plain(title, 32), titleX, 159, 'center', true))]
  });
}
colorbar('barC', normMean, meanSnrTicks, v => minus(v), 130, 'Mean SNR(dB)', 110);
colorbar('barD', normStd, stdSnrTicks, v => String(v), 86, 'STD SNR(dB)', 64);
</script>
</body>
</html>
